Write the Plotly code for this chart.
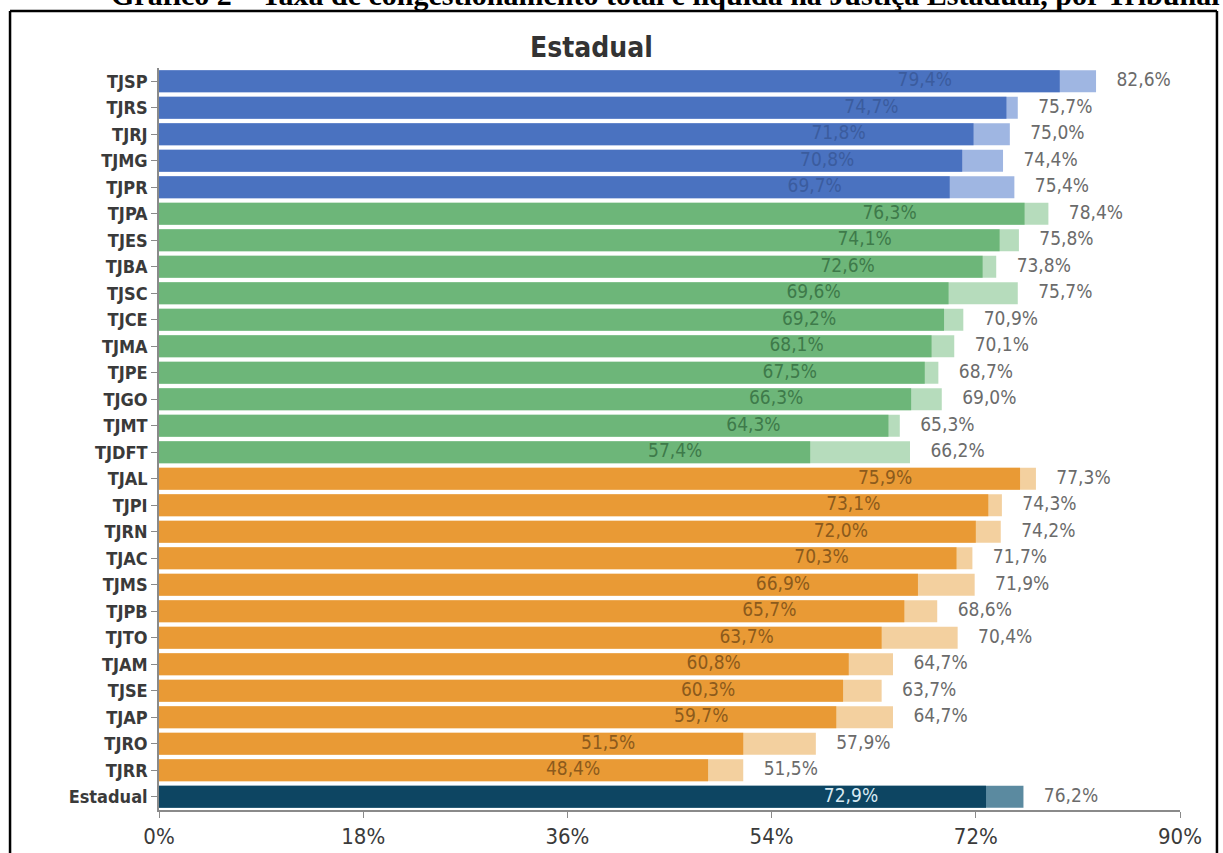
import plotly.graph_objects as go

tribunais = ["TJSP", "TJRS", "TJRJ", "TJMG", "TJPR",
             "TJPA", "TJES", "TJBA", "TJSC", "TJCE", "TJMA", "TJPE", "TJGO", "TJMT", "TJDFT",
             "TJAL", "TJPI", "TJRN", "TJAC", "TJMS", "TJPB", "TJTO", "TJAM", "TJSE", "TJAP", "TJRO", "TJRR",
             "Estadual"]
taxa_liquida = [79.4, 74.7, 71.8, 70.8, 69.7,
                76.3, 74.1, 72.6, 69.6, 69.2, 68.1, 67.5, 66.3, 64.3, 57.4,
                75.9, 73.1, 72.0, 70.3, 66.9, 65.7, 63.7, 60.8, 60.3, 59.7, 51.5, 48.4,
                72.9]
taxa_total = [82.6, 75.7, 75.0, 74.4, 75.4,
              78.4, 75.8, 73.8, 75.7, 70.9, 70.1, 68.7, 69.0, 65.3, 66.2,
              77.3, 74.3, 74.2, 71.7, 71.9, 68.6, 70.4, 64.7, 63.7, 64.7, 57.9, 51.5,
              76.2]
porte = ["Grande"] * 5 + ["Médio"] * 10 + ["Pequeno"] * 12 + ["Estadual"]
x_ticks = [0, 18, 36, 54, 72, 90]

cores_escuras = {"Grande": "#4a72c0", "Médio": "#6db679", "Pequeno": "#e99a35", "Estadual": "#0d4562"}
cores_claras = {"Grande": "#9fb6e2", "Médio": "#b6dcbc", "Pequeno": "#f3d09f", "Estadual": "#5b8aa0"}
cores_texto = {"Grande": "#3b5c9e", "Médio": "#3e7a4a", "Pequeno": "#8c5a1c", "Estadual": "#d9eaf2"}

def fmt(v):
    return f"{v:.1f}".replace(".", ",") + "%"

FONT = "DejaVu Sans Condensed, Liberation Sans Narrow, Roboto, sans-serif"

fig = go.Figure()
fig.add_trace(go.Bar(
    y=tribunais, x=taxa_total, orientation="h", width=0.83,
    marker=dict(color=[cores_claras[p] for p in porte], line=dict(width=0)),
    hoverinfo="skip", showlegend=False))
fig.add_trace(go.Bar(
    y=tribunais, x=taxa_liquida, orientation="h", width=0.83,
    marker=dict(color=[cores_escuras[p] for p in porte], line=dict(width=0)),
    hoverinfo="skip", showlegend=False))
# rótulos da taxa líquida (dentro da barra)
fig.add_trace(go.Scatter(
    y=tribunais, x=[v - 11.9 for v in taxa_liquida], mode="text",
    text=[fmt(v) for v in taxa_liquida], textposition="middle center",
    textfont=dict(family=FONT, size=19, color=[cores_texto[p] for p in porte]),
    hoverinfo="skip", showlegend=False, cliponaxis=False))
# rótulos da taxa total (fora da barra)
fig.add_trace(go.Scatter(
    y=tribunais, x=[v + 1.8 for v in taxa_total], mode="text",
    text=[fmt(v) for v in taxa_total], textposition="middle right",
    textfont=dict(family=FONT, size=19, color="#6b6b6b"),
    hoverinfo="skip", showlegend=False, cliponaxis=False))

fig.update_layout(
    width=1223, height=853,
    margin=dict(l=159, r=43, t=68, b=43, autoexpand=False),
    barmode="overlay",
    paper_bgcolor="white", plot_bgcolor="white",
    xaxis=dict(range=[0, 90], tickvals=x_ticks, ticktext=[f"{t}%" for t in x_ticks],
               showgrid=False, zeroline=False, showline=True, linecolor="#8a8a8a", linewidth=1.5,
               ticks="outside", ticklen=6, tickcolor="#8a8a8a", automargin=False,
               tickfont=dict(family=FONT, size=22, color="#3a3a3a")),
    yaxis=dict(categoryorder="array", categoryarray=tribunais, autorange=False,
               range=[27.5, -0.5], automargin=False,
               showgrid=False, zeroline=False, showline=True, linecolor="#8a8a8a", linewidth=1.5,
               ticks="outside", ticklen=6, tickcolor="#8a8a8a",
               tickfont=dict(family=FONT, size=18, color="#3a3a3a", weight="bold")),
    annotations=[
        dict(text="<b>Estadual</b>", xref="paper", yref="paper", x=0.424, y=1.0283,
             xanchor="center", yanchor="middle", showarrow=False,
             font=dict(family=FONT, size=28, color="#333333")),
        dict(text="<b>Gráfico 2 – Taxa de congestionamento total e líquida na Justiça Estadual, por Tribunal</b>",
             xref="paper", yref="paper", x=1.0402, y=1.0741, xanchor="right", yanchor="bottom",
             showarrow=False, font=dict(family="Liberation Serif, Times New Roman, serif", size=30, color="black")),
    ],
    shapes=[
        dict(type="line", xref="paper", yref="paper", x0=-0.1459, x1=1.0362, y0=1.0768, y1=1.0768,
             line=dict(color="black", width=2.5)),
        dict(type="line", xref="paper", yref="paper", x0=-0.1459, x1=-0.1459, y0=1.0768, y1=-0.1,
             line=dict(color="black", width=2.5)),
        dict(type="line", xref="paper", yref="paper", x0=1.0362, x1=1.0362, y0=1.0768, y1=-0.1,
             line=dict(color="black", width=2.5)),
    ],
)

fig.write_html("out.html", config={"displayModeBar": False},
               post_script="document.body.style.margin='0';")
